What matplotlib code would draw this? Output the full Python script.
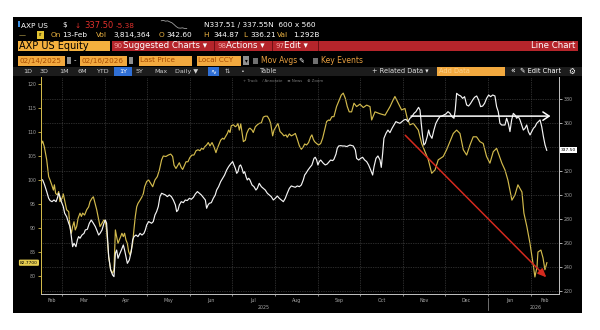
import pandas as pd
import matplotlib
matplotlib.use("Agg")
import matplotlib.pyplot as plt
import matplotlib.dates as mdates
from matplotlib.patches import Rectangle

# x = days after 14-Feb-2025
yel_day = [0, 1.2, 2.4, 4.1, 5.5, 6.5, 7.7, 8.9, 9.6, 10.5, 11.7, 12.7, 13.6, 15.1, 16.0, 17.2, 18.4, 19.9,
           20.8, 21.8, 22.7, 23.7, 24.6, 25.6, 26.6, 28.0, 29.0, 29.9, 31.3, 32.8, 34.2, 35.2, 36.6, 37.6,
           38.5, 40.0, 41.4, 42.4, 43.8, 45.2, 46.2, 47.1, 48.6, 50.0, 51.4, 52.4, 53.4, 54.3, 55.3, 56.2,
           57.2, 58.1, 59.1, 60.0, 61.0, 62.0, 62.9, 63.9, 64.8, 65.8, 66.8, 67.7, 68.7, 69.6, 71.1, 72.5,
           73.5, 74.4, 75.9, 77.3, 80.2, 81.8, 83.5, 85.0, 86.6, 87.8, 89.7, 91.4, 93.1, 94.5, 95.5, 96.9,
           97.9, 99.3, 100.7, 101.7, 103.1, 104.1, 105.5, 106.9, 108.4, 109.8, 111.3, 112.7, 114.1, 115.3,
           116.5, 117.5, 118.9, 120.1, 121.3, 122.8, 124.2, 125.6, 126.6, 128.0, 129.0, 130.4, 131.4, 132.8,
           133.8, 134.7, 135.7, 136.6, 138.1, 139.5, 140.5, 141.4, 142.4, 143.4, 144.3, 145.3, 146.7, 147.7,
           149.1, 150.0, 151.5, 152.4, 153.9, 155.3, 156.7, 158.2, 159.6, 161.0, 162.5, 163.9, 164.9, 166.3,
           167.3, 168.7, 170.1, 171.6, 173.0, 174.4, 175.9, 176.8, 178.3, 179.7, 181.1, 182.6, 184.0, 185.5,
           186.9, 188.3, 189.3, 190.7, 192.1, 193.6, 194.5, 195.5, 196.4, 197.9, 199.3, 200.8, 202.2, 203.6,
           205.1, 206.5, 207.4, 208.9, 210.3, 212.2, 214.2, 215.6, 217.0, 218.5, 219.9, 221.3, 223.0, 224.7,
           226.6, 229.0, 231.4, 233.8, 236.2, 237.4, 239.8, 243.4, 247.0, 250.6, 252.5, 254.1, 256.5, 258.9,
           261.3, 263.0, 264.9, 267.3, 270.9, 273.3, 275.7, 278.1, 280.5, 282.9, 285.2, 288.8, 291.2, 293.6,
           296.0, 298.4, 300.8, 303.2, 305.6, 308.0, 310.3, 312.7, 315.1, 317.5, 319.9, 322.3, 324.7, 327.1,
           330.9, 333.1, 335.2, 338.1, 340.3, 342.4, 345.3, 346.7, 348.9, 351.0, 353.2, 354.6, 356.1, 356.8,
           358.9, 360.4, 361.8, 363.2]
yel_val = [107.3, 108.1, 106.9, 104.2, 100.7, 100.0, 99.0, 97.9, 99.0, 97.2, 96.9, 97.6, 95.5, 96.2, 97.1, 95.5,
           93.8, 93.4, 90.3, 88.9, 90.3, 91.3, 89.6, 90.3, 92.0, 93.1, 92.4, 93.1, 92.7, 93.8, 94.4, 95.5, 96.2,
           96.5, 95.5, 93.8, 91.7, 90.3, 91.0, 91.7, 91.3, 89.6, 84.0, 81.3, 80.6, 81.3, 89.6, 88.2, 86.8, 87.5,
           88.2, 88.9, 88.2, 88.9, 87.5, 86.8, 85.1, 84.4, 85.4, 86.8, 89.9, 92.4, 94.4, 95.1, 95.8, 96.5, 97.2,
           98.6, 99.7, 100.0, 98.6, 100.0, 100.7, 102.1, 104.2, 105.0, 104.9, 105.2, 105.4, 104.9, 103.1, 102.4,
           102.9, 103.6, 102.6, 102.2, 103.1, 103.8, 103.8, 104.7, 105.2, 105.2, 106.1, 106.3, 106.1, 106.6,
           106.4, 106.9, 107.3, 107.8, 107.1, 107.8, 106.9, 105.7, 106.6, 107.6, 108.3, 108.7, 108.5, 109.2,
           109.7, 110.4, 109.9, 111.3, 111.5, 111.1, 111.3, 111.8, 110.4, 111.7, 109.9, 108.0, 108.3, 109.7,
           110.6, 110.8, 110.4, 109.9, 111.1, 111.5, 111.8, 111.9, 113.1, 113.3, 113.3, 112.6, 111.8, 109.2,
           110.4, 111.1, 111.8, 110.1, 109.7, 109.2, 109.4, 108.9, 109.6, 109.2, 109.4, 109.7, 108.5, 107.1,
           106.4, 106.9, 107.5, 107.3, 107.8, 109.0, 109.4, 108.5, 108.0, 107.6, 107.3, 107.6, 108.7, 110.4,
           112.2, 112.5, 112.4, 113.2, 113.2, 115.3, 116.7, 117.7, 118.1, 117.0, 115.3, 114.2, 114.2, 116.0,
           115.3, 115.8, 115.1, 115.6, 115.3, 112.5, 114.2, 113.8, 113.5, 115.3, 116.5, 117.4, 116.0, 114.6,
           114.9, 112.8, 111.5, 111.8, 110.4, 107.6, 105.9, 104.2, 101.4, 102.1, 104.2, 104.9, 106.3, 108.0,
           109.7, 110.4, 109.7, 106.3, 105.2, 107.3, 109.0, 109.0, 108.0, 107.6, 104.9, 103.5, 105.9, 106.6,
           103.5, 102.1, 100.0, 95.8, 96.9, 99.0, 97.5, 93.1, 90.2, 86.9, 82.7, 79.8, 81.9, 85.0,
           85.4, 83.8, 81.3, 82.77]

wht_day = [0, 1.2, 2.6, 4.1, 5.5, 6.5, 7.9, 9.3, 10.8, 11.7, 12.7, 13.6, 14.6, 16.0, 17.0, 18.4, 19.9, 20.8,
           21.8, 22.7, 23.7, 25.1, 26.1, 27.0, 28.0, 29.4, 30.9, 31.8, 33.3, 34.7, 36.1, 37.6, 39.0, 40.0,
           41.4, 42.4, 43.8, 45.2, 46.2, 47.1, 48.6, 50.0, 51.4, 52.4, 53.4, 54.3, 55.3, 56.2, 57.7, 59.1,
           60.0, 61.0, 62.0, 63.4, 64.8, 65.8, 66.8, 68.2, 69.6, 71.1, 72.5, 73.9, 74.9, 75.9, 77.3, 79.4,
           80.6, 81.8, 83.0, 84.2, 85.4, 86.6, 87.8, 89.3, 90.7, 92.1, 93.6, 95.0, 96.5, 97.4, 98.4, 99.3,
           100.7, 102.2, 103.6, 105.0, 106.5, 107.9, 109.4, 110.8, 112.3, 113.7, 115.1, 116.5, 118.0, 118.9,
           119.9, 120.8, 122.3, 123.7, 125.1, 126.1, 127.5, 129.0, 130.4, 131.8, 133.3, 134.7, 136.1, 137.6,
           138.5, 139.5, 140.5, 141.4, 142.4, 143.3, 144.3, 145.3, 146.2, 147.2, 148.1, 149.1, 150.0, 151.5,
           152.9, 154.3, 155.3, 156.7, 158.2, 159.6, 161.0, 162.5, 163.9, 165.3, 166.8, 168.2, 169.7, 171.1,
           172.5, 174.0, 175.4, 176.8, 178.3, 179.7, 181.1, 182.6, 184.0, 185.5, 186.9, 188.3, 189.3, 190.2,
           191.7, 193.1, 194.5, 196.0, 196.9, 197.9, 198.8, 199.8, 200.8, 201.7, 202.7, 204.1, 205.5, 207.0,
           207.9, 209.4, 210.3, 211.8, 212.7, 213.7, 215.1, 216.6, 218.0, 219.5, 221.8, 224.2, 225.7, 226.6,
           228.1, 229.5, 230.9, 232.4, 233.8, 235.2, 236.7, 238.1, 239.1, 240.5, 241.9, 243.4, 244.3, 245.3,
           246.2, 247.7, 249.1, 250.5, 252.0, 253.4, 254.8, 256.3, 257.7, 259.1, 260.6, 262.0, 263.5, 264.9,
           266.3, 267.8, 269.2, 270.2, 271.1, 272.1, 273.0, 274.0, 274.9, 275.9, 277.3, 278.3, 279.2, 280.7,
           282.1, 283.5, 285.0, 286.4, 287.9, 289.3, 290.7, 292.2, 293.6, 295.0, 296.5, 297.4, 298.4, 299.8,
           301.3, 302.7, 304.1, 305.6, 307.0, 308.5, 309.9, 311.3, 312.8, 314.2, 315.6, 317.1, 318.5, 319.9,
           321.4, 322.8, 324.3, 325.9, 327.1, 328.3, 329.5, 330.7, 333.1, 334.3, 335.5, 336.7, 337.9, 339.1,
           340.3, 341.5, 342.7, 343.9, 345.1, 346.3, 347.5, 348.7, 349.9, 351.1, 352.3, 353.5, 354.7, 355.9,
           357.1, 358.3, 359.5, 360.7, 361.9, 363.1]
wht_val = [313.3, 312.8, 308.6, 303.1, 297.5, 295.6, 294.7, 296.1, 294.7, 297.5, 301.7, 298.9, 294.7, 290.6,
           285.0, 282.2, 276.7, 273.9, 265.6, 257.2, 260.0, 257.2, 262.8, 265.6, 264.2, 266.9, 268.3, 271.1,
           271.7, 276.7, 279.4, 276.7, 273.9, 271.1, 266.9, 268.3, 271.1, 276.7, 279.4, 276.7, 248.9, 237.8,
           233.6, 232.2, 251.7, 254.4, 247.5, 250.3, 254.4, 258.6, 254.4, 248.9, 243.3, 246.1, 253.1, 262.8,
           265.6, 266.9, 265.6, 268.3, 266.9, 268.3, 271.1, 275.3, 278.1, 276.7, 278.1, 283.6, 286.4, 290.6,
           298.9, 301.7, 301.1, 300.3, 298.9, 300.3, 298.9, 296.1, 291.9, 286.4, 287.8, 291.9, 294.7, 293.9,
           296.1, 295.6, 297.5, 296.7, 298.3, 301.1, 303.1, 301.7, 300.3, 298.3, 296.1, 289.2, 291.9, 293.3,
           293.9, 297.5, 300.3, 304.4, 307.2, 311.4, 314.2, 316.9, 321.1, 323.9, 326.1, 328.1, 325.3, 322.5,
           318.3, 319.7, 324.4, 325.3, 322.5, 318.3, 319.7, 315.6, 312.8, 314.2, 312.8, 308.6, 307.2, 304.4,
           305.8, 310.0, 307.2, 305.8, 304.4, 301.7, 300.3, 298.9, 296.1, 297.5, 299.4, 297.5, 296.1, 294.7,
           297.5, 301.7, 305.8, 307.8, 307.2, 306.7, 307.8, 307.2, 308.6, 312.8, 316.9, 318.3, 321.1, 323.3,
           325.3, 330.8, 331.7, 329.4, 325.3, 328.1, 329.4, 328.1, 326.7, 325.3, 326.1, 328.1, 329.4, 328.9,
           330.0, 334.4, 339.2, 341.1, 341.4, 341.1, 341.1, 340.6, 341.9, 341.1, 337.8, 330.8, 329.4, 330.8,
           331.7, 329.4, 328.1, 325.3, 321.1, 316.9, 323.9, 330.8, 332.8, 329.4, 323.3, 335.0, 347.5, 351.7,
           354.4, 352.2, 355.8, 358.6, 361.4, 360.6, 360.0, 361.4, 362.8, 363.3, 361.4, 364.2, 365.6, 368.3,
           369.7, 371.7, 373.3, 371.1, 360.0, 348.9, 341.9, 343.3, 348.9, 354.4, 350.3, 347.5, 354.4, 360.0,
           363.3, 365.6, 366.1, 366.9, 367.8, 369.7, 368.3, 365.6, 364.2, 371.1, 385.0, 383.6, 382.8, 380.8,
           382.2, 375.3, 374.4, 376.7, 379.4, 381.7, 382.8, 379.4, 373.9, 374.4, 376.7, 380.8, 383.6, 382.2,
           383.6, 382.8, 373.9, 369.7, 360.0, 358.6, 358.6, 364.2, 360.0, 353.1, 362.8, 368.3, 366.9, 364.2,
           365.6, 362.8, 358.6, 354.4, 355.8, 358.6, 353.1, 350.3, 353.1, 355.8, 357.2, 360.0, 361.4, 362.8,
           357.2, 348.9, 341.9, 337.5]

spark = [344.6, 344.9, 344.2, 344.5, 343.6, 342.8, 341.2, 339.4, 338.1, 337.9, 338.2, 337.6, 337.5]

left_ticks = list(range(80, 121, 5))
right_ticks = list(range(220, 381, 20))
# the 340 label sits under the last-price tag in the screenshot
right_labels = ["" if t == 340 else str(t) for t in right_ticks]

start = pd.Timestamp("2025-02-14")
xmin, xmax = start, start + pd.Timedelta(days=371.9)
yel_x = start + pd.to_timedelta(yel_day, unit="D")
wht_x = start + pd.to_timedelta(wht_day, unit="D")

W, H = 600, 330
YEL = "#d2ba4c"
ORANGE = "#f2a93f"
fig = plt.figure(figsize=(6, 3.3), dpi=100)
fig.patch.set_facecolor("white")


def box(x0, y0, x1, y1, fc, z=1):
    fig.add_artist(Rectangle((x0 / W, 1 - y1 / H), (x1 - x0) / W, (y1 - y0) / H,
                             transform=fig.transFigure, facecolor=fc, edgecolor="none", zorder=z))


def txt(x, y, s, c="white", fs=5, ha="left", **kw):
    fig.text(x / W, 1 - y / H, s, color=c, fontsize=fs, va="center", ha=ha, zorder=5, **kw)


# black terminal panel
box(13, 17, 582, 313, "black", z=-1)

# row 1
box(17.5, 21.5, 19.5, 27, "#3a8fe0")
txt(21, 25.5, "AXP US", fs=5.3)
txt(62, 25.5, "$", fs=5.3)
txt(75, 25.5, "↓", "#e0302c", 5.3)
txt(84, 25.5, "337.50", "#e0302c", 6)
txt(116, 25.5, "-5.38", "#e0302c", 5.3)
sax = fig.add_axes([160 / W, 1 - 29 / H, 28 / W, 9 / H])
sax.plot(spark, color="#a0a0a0", lw=0.6)
sax.axis("off")
txt(204, 25.5, "N337.51 / 337.55N  600 x 560", fs=5.3)

# row 2
txt(19, 35, "—", "#d9c05a", 5)
box(37, 31.5, 44, 38.5, "#e2c232")
txt(40.5, 35, "IT", "black", 3, ha="center")
txt(51, 35, "On", "#e8b040", 5.3)
txt(62, 35, "13-Feb", fs=5.3)
txt(96, 35, "Vol", "#e8b040", 5.3)
txt(113, 35, "3,814,364", fs=5.3)
txt(159, 35, "O", "#e8b040", 5.3)
txt(166, 35, "342.60", fs=5.3)
txt(203, 35, "H", "#e8b040", 5.3)
txt(213, 35, "344.87", fs=5.3)
txt(243, 35, "L", "#e8b040", 5.3)
txt(250, 35, "336.21", fs=5.3)
txt(277, 35, "Val", "#e8b040", 5.3)
txt(293, 35, "1.292B", fs=5.3)

# row 3
box(17.5, 41, 110, 51, "#f4b13e")
txt(19, 46, "AXP US Equity", "black", 7)
box(112, 41, 578, 51, "#b5252b")
for sx in (214, 272, 318):
    box(sx, 41, sx + 1, 51, "#6e1014", z=2)
txt(114, 46, "90", "#f2a3a3", 5)
txt(123, 46, "Suggested Charts ▾", fs=6.2)
txt(217, 46, "98", "#f2a3a3", 5)
txt(226, 46, "Actions ▾", fs=6.2)
txt(275, 46, "97", "#f2a3a3", 5)
txt(284, 46, "Edit ▾", fs=6.2)
txt(575, 46, "Line Chart", fs=6.2, ha="right")

# row 4
for x0, x1, s in [(18, 65, "02/14/2025"), (80, 127, "02/16/2026"), (139, 192, "Last Price"), (197, 241, "Local CCY")]:
    box(x0, 55.5, x1, 65.5, ORANGE)
    txt(x0 + 1.5, 60.5, s, "#a84a00", 5.2)
box(66.5, 57, 70.5, 64, "#8f8f8f")
box(128.5, 57, 132.5, 64, "#8f8f8f")
txt(74, 60.5, "-", fs=5)
box(243, 56.5, 249, 64.5, "#8f8f8f")
txt(246, 60.5, "▾", "black", 4, ha="center")
box(253, 57.5, 258, 63.5, "#707070")
txt(261, 60.5, "Mov Avgs", "#e8a040", 5.5)
txt(298, 60.5, "✎", fs=5)
box(313, 57.5, 318, 63.5, "#707070")
txt(321, 60.5, "Key Events", "#e8a040", 5.5)

# row 5
box(13, 66.5, 582, 76, "#1c1c1c")
for x, s in [(23, "1D"), (40, "3D"), (59, "1M"), (77, "6M"), (96, "YTD"), (136, "5Y"), (154, "Max"), (175, "Daily ▼")]:
    txt(x, 71.3, s, "#d0d0d0", 4.6)
box(114, 67, 132, 75.5, "#2f6fd6")
txt(123, 71.3, "1Y", fs=4.6, ha="center")
box(208, 67, 219, 75.5, "#2f6fd6")
txt(213.5, 71.3, "∿", fs=5, ha="center")
txt(227, 71.3, "⇅", "#d0d0d0", 4.6, ha="center")
txt(243, 71.3, "•", "#d0d0d0", 4.6, ha="center")
txt(260, 71.3, "Table", "#d0d0d0", 4.8)
txt(372, 71.3, "+ Related Data ▾", "#e0e0e0", 4.8)
box(437, 67, 505, 75.5, ORANGE)
txt(439, 71.3, "Add Data", "#fbd28e", 4.8)
txt(510, 71.3, "«", fs=5.5)
txt(520, 71.3, "✎ Edit Chart", fs=4.8)
txt(572, 71.3, "⚙", fs=5.5, ha="center")
txt(243, 80.5, "+ Track    ⁄ Annotate    ≡ News    ⊕ Zoom", "#7a7a7a", 2.8)

# chart
ax = fig.add_axes([41 / W, 1 - 294 / H, 518 / W, 217 / H])
ax.set_facecolor("black")
ax2 = ax.twinx()
ax.plot(yel_x, yel_val, color=YEL, lw=0.85)
ax2.plot(wht_x, wht_val, color="#f4f4f4", lw=0.85)
ax.set_xlim(xmin, xmax)
ax.set_ylim(76.25, 121.46)
ax2.set_ylim(217.75, 398.6)
ax.set_yticks(left_ticks)
ax2.set_yticks(right_ticks)
ax2.set_yticklabels(right_labels)

edges = pd.date_range("2025-03-01", "2026-02-01", freq="MS")
bounds = [xmin] + list(edges) + [xmax]
mids = [a + (b - a) / 2 for a, b in zip(bounds[:-1], bounds[1:])]
ax.set_xticks(edges)
ax.set_xticklabels([])
ax.set_xticks(mids, minor=True)
ax.set_xticklabels([m.strftime("%b") for m in mids], minor=True)
ax.tick_params(axis="x", which="major", length=1.5, color="#bbbbbb", width=0.5)
ax.tick_params(axis="x", which="minor", length=0, labelsize=3.4, labelcolor="#a8a8a8", pad=3)
ax.tick_params(axis="y", length=2, width=0.6, color=YEL, labelsize=3.4, labelcolor="#a0a0a0", pad=1.5)
ax2.tick_params(axis="y", length=2, width=0.6, color="#cccccc", labelsize=3.4, labelcolor="#a0a0a0", pad=1.5)
ax.grid(axis="x", which="major", color="#555555", lw=0.5, ls=(0, (1, 1.5)))
ax2.grid(axis="y", color="#555555", lw=0.5, ls=(0, (1, 1.5)))

for a in (ax, ax2):
    a.spines["top"].set_visible(False)
    a.spines["bottom"].set_color("#bdbdbd")
    a.spines["left"].set_color(YEL)
    a.spines["right"].set_color("#bdbdbd")
    for sp in a.spines.values():
        sp.set_linewidth(0.7)

xt = ax.get_xaxis_transform()
ax.text(pd.Timestamp("2025-07-24"), -0.06, "2025", transform=xt, color="#a8a8a8", fontsize=3.4, ha="center", va="center")
ax.text(pd.Timestamp("2026-02-04"), -0.06, "2026", transform=xt, color="#a8a8a8", fontsize=3.4, ha="center", va="center")
ax.plot([pd.Timestamp("2026-01-01")] * 2, [-0.02, -0.075], transform=xt, color="#9a9a9a", lw=0.5, clip_on=False)

# last value tags
ax.text(-0.006, yel_val[-1], "82.7700", transform=ax.get_yaxis_transform(), ha="right", va="center",
        fontsize=3.2, color="black", bbox=dict(boxstyle="round,pad=0.25", fc="#e6cd50", ec="none"))
ax2.text(1.004, wht_val[-1], "337.50", transform=ax2.get_yaxis_transform(), ha="left", va="center",
         fontsize=3.2, color="black", bbox=dict(boxstyle="square,pad=0.25", fc="white", ec="none"))

# hand-drawn arrows
d = lambda n: mdates.date2num(start + pd.Timedelta(days=n))
ax2.annotate("", xy=(d(367.8), 366), xytext=(d(263.7), 366),
             arrowprops=dict(arrowstyle="->,head_length=0.45,head_width=0.3", color="white", lw=1.1))
ax2.annotate("", xy=(d(364.2), 230), xytext=(d(260.1), 351.7),
             arrowprops=dict(arrowstyle="-|>,head_length=0.5,head_width=0.22", color="#d42a1e", lw=1.1))

fig.savefig("out.png", dpi=100, facecolor="white")
